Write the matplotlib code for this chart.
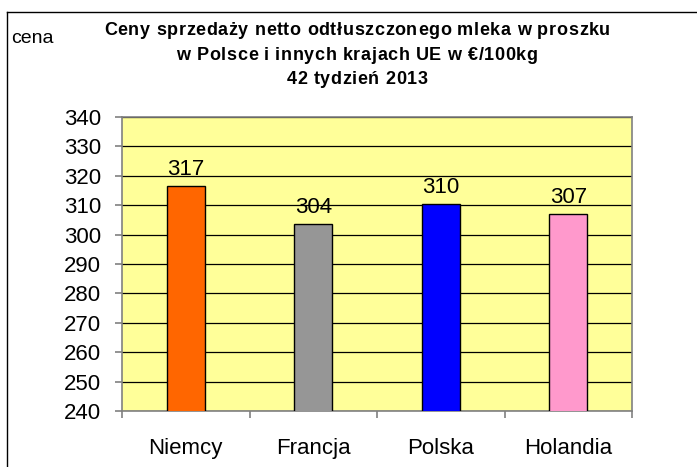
import matplotlib
matplotlib.use("Agg")
import matplotlib.pyplot as plt
from matplotlib.lines import Line2D
from matplotlib.font_manager import FontProperties
import numpy as np

categories = ["Niemcy", "Francja", "Polska", "Holandia"]
values = [316.6, 303.7, 310.4, 307.0]
colors = ["#FF6600", "#969696", "#0000FF", "#FF99CC"]
yticks = [240, 250, 260, 270, 280, 290, 300, 310, 320, 330, 340]
title_lines = ["Ceny sprzedaży netto odtłuszczonego mleka w proszku",
               "w Polsce i innych krajach UE w €/100kg",
               "42 tydzień 2013"]

plt.rcParams['font.family'] = ['Liberation Sans', 'DejaVu Sans']

W, H = 697, 467
fig = plt.figure(figsize=(W / 100, H / 100), dpi=100)

# outer frame (only left and top edges visible)
fig.add_artist(Line2D([6.5 / W, 6.5 / W], [0, 1 - 11.5 / H], transform=fig.transFigure,
                      color="black", linewidth=1.0))
fig.add_artist(Line2D([6.5 / W, 1], [1 - 11.5 / H, 1 - 11.5 / H], transform=fig.transFigure,
                      color="black", linewidth=1.0))

ax = fig.add_axes([122 / W, 1 - 411 / H, (632 - 122) / W, (411 - 117) / H])
ax.set_facecolor("#FFFF99")

x = np.arange(len(categories))
ax.bar(x, values, width=0.3, color=colors, edgecolor="black", linewidth=1.0, zorder=3)
ax.set_xlim(-0.5, len(categories) - 0.5)
ax.set_ylim(240, 340)
ax.set_yticks(yticks)
ax.set_yticklabels([str(t) for t in yticks], fontsize=16)
ax.grid(axis="y", color="black", linewidth=0.9, zorder=1)
ax.set_axisbelow(True)

ax.set_xticks(np.arange(-0.5, len(categories), 1.0))
ax.set_xticklabels([])
ax.set_xticks(x, minor=True)
ax.set_xticklabels(categories, minor=True, fontsize=16)
ax.tick_params(axis="x", which="minor", length=0, pad=19.5)
ax.tick_params(axis="x", which="major", length=5, width=1.2, direction="out", color="#808080")
ax.tick_params(axis="y", length=5, width=1.2, direction="out", color="#808080", pad=10)

for side in ["top", "right", "left", "bottom"]:
    ax.spines[side].set_color("#808080")
    ax.spines[side].set_linewidth(1.2)

for xi, v in zip(x, values):
    ax.annotate(f"{round(v)}", (xi, v), xytext=(0, 8), textcoords="offset points",
                ha="center", va="baseline", fontsize=16, zorder=4)

# title with slight letter spacing
renderer = fig.canvas.get_renderer()
prop = FontProperties(family="Liberation Sans", weight="bold", size=13)


def prefix_width(s):
    if not s:
        return 0.0
    w, h, d = renderer.get_text_width_height_descent(s.replace(" ", "\u00a0"), prop, ismath=False)
    return w


line0 = title_lines[0]
target_w = 506.0
spacing = max(0.0, (target_w - prefix_width(line0)) / (len(line0) - 1))
baselines = [35, 59.5, 84]
cx = 357.0
for line, yb in zip(title_lines, baselines):
    total = prefix_width(line) + spacing * (len(line) - 1)
    x0 = cx - total / 2
    for i, ch in enumerate(line):
        if ch == " ":
            continue
        xp = x0 + prefix_width(line[:i]) + spacing * i
        fig.text(xp / W, 1 - yb / H, ch, ha="left", va="baseline",
                 fontproperties=prop)

fig.text(11 / W, 1 - 43 / H, "cena", ha="left", va="baseline", fontsize=14)

fig.savefig("out.png", dpi=100)
